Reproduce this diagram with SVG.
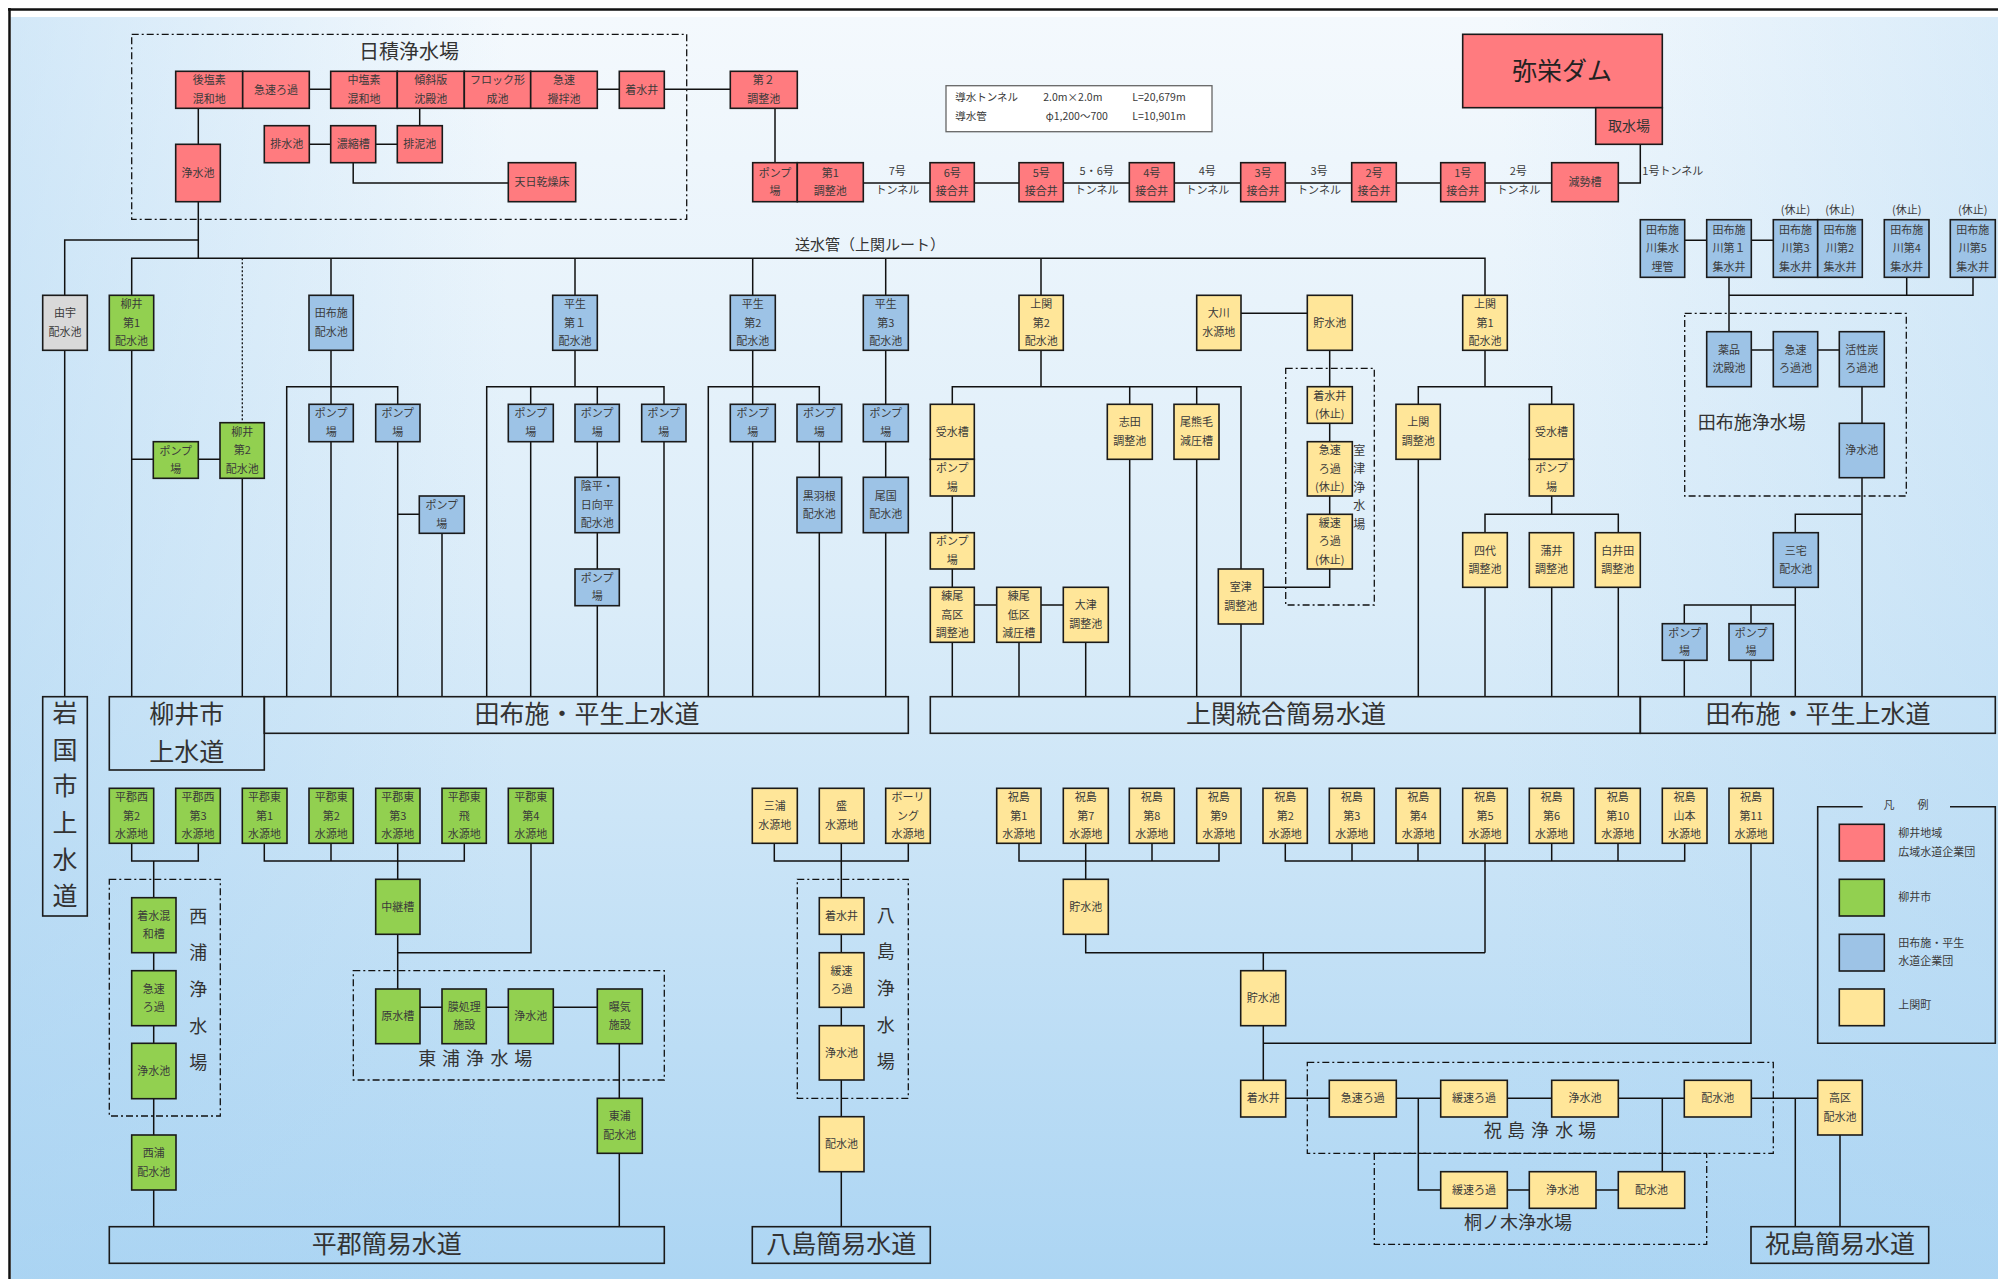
<svg xmlns="http://www.w3.org/2000/svg" width="1998" height="1279" viewBox="0 0 1998 1279">
<defs>
<linearGradient id="bgv" x1="0" y1="0" x2="0" y2="1">
<stop offset="0" stop-color="#f4f9fd"/>
<stop offset="0.45" stop-color="#dcedf9"/>
<stop offset="1" stop-color="#acd5f3"/>
</linearGradient>
<linearGradient id="bgh" x1="0" y1="0" x2="1" y2="0">
<stop offset="0" stop-color="#a9d3f2" stop-opacity="0.45"/>
<stop offset="0.25" stop-color="#a9d3f2" stop-opacity="0"/>
<stop offset="0.75" stop-color="#a9d3f2" stop-opacity="0"/>
<stop offset="1" stop-color="#a9d3f2" stop-opacity="0.35"/>
</linearGradient>
<style>
text{font-family:"Noto Sans CJK JP","Noto Sans CJK SC",sans-serif;fill:#3a3a3a;text-anchor:middle;dominant-baseline:central;transform:translateY(-1.2px)}
.t{font-size:11px}
.s{font-size:10.5px}
.big{font-size:25px;fill:#333;transform:translateY(-2.2px)}
.lab{font-size:18px;fill:#333;transform:translateY(-1.5px)}
.r{fill:#ff7b7f;stroke:#1a1a1a;stroke-width:1.6}
.g{fill:#92d050;stroke:#1a1a1a;stroke-width:1.6}
.b{fill:#9dc3e6;stroke:#1a1a1a;stroke-width:1.6}
.y{fill:#ffe699;stroke:#1a1a1a;stroke-width:1.6}
.gr{fill:#d9d9d9;stroke:#1a1a1a;stroke-width:1.6}
.bar{fill:none;stroke:#1a1a1a;stroke-width:1.6}
.c{fill:none;stroke:#111;stroke-width:1.5}
.d{fill:none;stroke:#111;stroke-width:1.3;stroke-dasharray:7 3 2 3}
.lt{text-anchor:start}
</style>
</defs>
<rect x="0" y="0" width="1998" height="1279" fill="#fff"/>
<rect x="11" y="17" width="1987" height="1262" fill="url(#bgv)"/>
<rect x="11" y="17" width="1987" height="1262" fill="url(#bgh)"/>
<path d="M8 9.5H1998M9.5 8V1279" stroke="#111" stroke-width="2.5" fill="none"/>

<g id="connectors">
<path class="c" d="M309.3 89.3H330.7M597.3 89.3H619.3M664.3 89.3H730.3M419.7 108.3V125.7M309.3 144.2H330.7M375.7 144.2H397.3M353.2 162.7V183H508.3M198.3 108.3V144.3M198.3 201.7V258.3M198.3 240H64.7V295.3M131.7 295.3V258.3H1485V295.3M331 258.3V295.3M575 258.3V295.3M752.7 258.3V295.3M885.7 258.3V295.3M1041 258.3V295.3M775 108.3V162.7M863.3 183H930M974.3 183H1019M1063.3 183H1129.3M1174.3 183H1240.7M1285.3 183H1351.7M1396.3 183H1440.7M1485 183H1551.7M1618.3 183H1640.3V144.3"/>
<path class="c" d="M64.7 350V696.7M131.7 350V696.7M131.7 459.3H153.3M198.3 459.3H220M242.3 478.3V696.7M331 350V386.7M286.7 696.7V386.7H397.7V404.3M331 386.7V404.3M331 441.7V696.7M397.7 441.7V696.7M397.7 514.3H419.3M442 533.3V696.7M575 350V386.7M486.7 696.7V386.7H664V404.3M530.7 386.7V404.3M597.3 386.7V404.3M530.7 441.7V696.7M597.3 441.7V477.3M597.3 532.7V569M597.3 605.7V696.7M664 441.7V696.7M752.7 350V386.7M708.3 696.7V386.7H819.3V404.3M752.7 386.7V404.3M752.7 441.7V696.7M819.3 441.7V477.3M819.3 532.7V696.7M885.7 350V404.3M885.7 441.7V477.3M885.7 532.7V696.7"/>
<path class="c" d="M1041 350V386.7M952.3 404.3V386.7H1241V569M1129.7 386.7V404.3M1196.7 386.7V404.3M952.3 496V532.7M952.3 569V587.3M952.3 642.3V696.7M974.3 605H996.7M1041 605H1063.3M1019 642.3V696.7M1085.7 642.3V696.7M1129.7 459.3V696.7M1196.7 459.3V696.7M1241 624V696.7M1263.3 587.3H1329.7V569M1241 313.3H1307.3M1329.7 350V386.7M1329.7 423.3V441.7M1329.7 496V514.3M1485 350V386.7M1418.3 404.3V386.7H1551.7V404.3M1418.3 459.3V696.7M1551.7 496V514.3M1485 532.7V514.3H1618.3V532.7M1485 587.3V696.7M1551.7 587.3V696.7M1618.3 587.3V696.7"/>
<path class="c" d="M1684.7 240.3H1706.7M1751.3 240.3H1773.3M1729 277.3V331.7M1729 295.3H1973V277.3M1906.7 277.3V295.3M1751.3 350H1773.3M1817.7 350H1839.3M1862 386.7V423.3M1862 477.7V696.7M1862 514.3H1795.3V532.7M1795.3 587.3V696.7M1684.3 623.7V605H1795.3M1751 605V623.7M1684.3 660.3V696.7M1751 660.3V696.7"/>
<path class="c" d="M131.7 843.3V861H198.3V843.3M153.7 861V897.7M153.7 952.7V970.7M153.7 1025.7V1043.3M153.7 1098.7V1135M153.7 1190V1226.7M264.3 843.3V861H464.3V843.3M331 843.3V861M397.7 843.3V879.3M397.7 934.3V989M397.7 952.7H531V843.3M420 1007.3H442M486.3 1007.3H508.3M553.3 1007.3H597.3M619.3 1043.7V1098.3M619.3 1153.3V1226.7M774.3 843.3V861H908.3V843.3M841.3 843.3V897.7M841.3 934.3V952.7M841.3 1007.3V1025.7M841.3 1080V1116.7M841.3 1171.7V1226.7"/>
<path class="c" d="M1019 843.3V861H1219V843.3M1152 843.3V861M1085.7 843.3V879.3M1085.7 934.3V952.7H1485M1285.3 843.3V861H1684.7V843.3M1352 843.3V861M1418 843.3V861M1551.7 843.3V861M1618 843.3V861M1485 843.3V952.7M1263.3 952.7V970.7M1263.3 1025.7V1080.3M1263.3 1043.3H1751V843.3M1285.7 1098.3H1329.3M1396.3 1098.3H1440.7M1507.3 1098.3H1551.7M1618.3 1098.3H1684.3M1751.3 1098.3H1817.7M1418.3 1098.3V1190H1440.7M1507.3 1190H1529.3M1596 1190H1618.3M1662.3 1098.3V1171.7M1795.3 1098.3V1226.7M1840 1135V1226.7"/>
<path d="M242.3 258.3V422.7" fill="none" stroke="#111" stroke-width="1.3" stroke-dasharray="2 2"/>
</g>

<g id="plants">
<rect class="d" x="131.7" y="34.3" width="555" height="185"/>
<text class="lab" x="409" y="52" style="font-size:20px">日積浄水場</text>
<rect class="d" x="1285.7" y="368.3" width="88.6" height="236.7"/>
<text style="font-size:12px"><tspan x="1359.3" y="450">室</tspan><tspan x="1359.3" y="468.5">津</tspan><tspan x="1359.3" y="487">浄</tspan><tspan x="1359.3" y="505.5">水</tspan><tspan x="1359.3" y="524">場</tspan></text>
<rect class="d" x="1684.7" y="313.3" width="221.6" height="182.7"/>
<text class="lab" x="1751.7" y="422.7">田布施浄水場</text>
<rect class="d" x="109.3" y="879.3" width="111" height="236.7"/>
<text class="lab"><tspan x="198.3" y="916">西</tspan><tspan x="198.3" y="952.7">浦</tspan><tspan x="198.3" y="989.3">浄</tspan><tspan x="198.3" y="1026">水</tspan><tspan x="198.3" y="1062.7">場</tspan></text>
<rect class="d" x="353.3" y="970.7" width="311" height="109.3"/>
<text class="lab" x="427.3 451 475 499.5 523.3" y="1058.3">東浦浄水場</text>
<rect class="d" x="797.3" y="879.3" width="111" height="219"/>
<text class="lab"><tspan x="885.7" y="915">八</tspan><tspan x="885.7" y="951.7">島</tspan><tspan x="885.7" y="988.3">浄</tspan><tspan x="885.7" y="1025">水</tspan><tspan x="885.7" y="1061.7">場</tspan></text>
<rect class="d" x="1307.3" y="1062.3" width="466" height="91"/>
<text class="lab" x="1492.7 1516 1540 1564.3 1587" y="1130.7">祝島浄水場</text>
<rect class="d" x="1374.3" y="1153.3" width="332.4" height="91"/>
<text class="lab" x="1518" y="1222.7">桐ノ木浄水場</text>
</g>

<g id="info">
<rect x="946" y="85.7" width="266" height="46" fill="#fff" stroke="#666" stroke-width="1.3"/>
<text class="s lt" x="955.3" y="97.7">導水トンネル</text>
<text class="s lt" x="955.3" y="116.7">導水管</text>
<text class="s lt" x="1043.3" y="97.7">2.0m×2.0m</text>
<text class="s lt" x="1045.7" y="116.7">φ1,200～700</text>
<text class="s lt" x="1132.3" y="97.7">L=20,679m</text>
<text class="s lt" x="1132.3" y="116.7">L=10,901m</text>
<text style="font-size:15px;fill:#333" x="870" y="245">送水管（上関ルート）</text>
</g>

<g id="tunnels">
<text class="t"><tspan x="897.3" y="171.7">7号</tspan><tspan x="897.3" y="190.7">トンネル</tspan></text>
<text class="t"><tspan x="1096.7" y="171.7">5・6号</tspan><tspan x="1096.7" y="190.7">トンネル</tspan></text>
<text class="t"><tspan x="1207.3" y="171.7">4号</tspan><tspan x="1207.3" y="190.7">トンネル</tspan></text>
<text class="t"><tspan x="1319" y="171.7">3号</tspan><tspan x="1319" y="190.7">トンネル</tspan></text>
<text class="t"><tspan x="1518.3" y="171.7">2号</tspan><tspan x="1518.3" y="190.7">トンネル</tspan></text>
<text class="t lt" x="1642.3" y="171.7">1号トンネル</text>
</g>

<g id="n-hizumi">
<g id="n1"><rect class="r" x="175.7" y="71.3" width="67" height="37"/><text class="t"><tspan x="209.2" y="80.6">後塩素</tspan><tspan x="209.2" y="99.1">混和地</tspan></text></g>
<g id="n2"><rect class="r" x="242.7" y="71.3" width="66.6" height="37"/><text class="t" x="276" y="89.8">急速ろ過</text></g>
<g id="n3"><rect class="r" x="330.7" y="71.3" width="66.6" height="37"/><text class="t"><tspan x="364" y="80.6">中塩素</tspan><tspan x="364" y="99.1">混和地</tspan></text></g>
<g id="n4"><rect class="r" x="397.3" y="71.3" width="67" height="37"/><text class="t"><tspan x="430.8" y="80.6">傾斜版</tspan><tspan x="430.8" y="99.1">沈殿池</tspan></text></g>
<g id="n5"><rect class="r" x="464.3" y="71.3" width="66.4" height="37"/><text class="t"><tspan x="497.5" y="80.6">フロック形</tspan><tspan x="497.5" y="99.1">成池</tspan></text></g>
<g id="n6"><rect class="r" x="530.7" y="71.3" width="66.6" height="37"/><text class="t"><tspan x="564" y="80.6">急速</tspan><tspan x="564" y="99.1">攪拌池</tspan></text></g>
<g id="n7"><rect class="r" x="619.3" y="71.3" width="45" height="37"/><text class="t" x="641.8" y="89.8">着水井</text></g>
<g id="n8"><rect class="r" x="730.3" y="71.3" width="67" height="37"/><text class="t"><tspan x="763.8" y="80.6">第２</tspan><tspan x="763.8" y="99.1">調整池</tspan></text></g>
<g id="n9"><rect class="r" x="264.3" y="125.7" width="45" height="37"/><text class="t" x="286.8" y="144.2">排水池</text></g>
<g id="n10"><rect class="r" x="330.7" y="125.7" width="45" height="37"/><text class="t" x="353.2" y="144.2">濃縮槽</text></g>
<g id="n11"><rect class="r" x="397.3" y="125.7" width="45" height="37"/><text class="t" x="419.8" y="144.2">排泥池</text></g>
<g id="n12"><rect class="r" x="508.3" y="162.7" width="67.4" height="39"/><text class="t" x="542" y="182.2">天日乾燥床</text></g>
<g id="n13"><rect class="r" x="175.7" y="144.3" width="44.6" height="57.4"/><text class="t" x="198" y="173">浄水池</text></g>
</g>

<g id="n-chain">
<g id="n14"><rect class="r" x="752.7" y="162.7" width="44.6" height="39"/><text class="t"><tspan x="775" y="172.9">ポンプ</tspan><tspan x="775" y="191.4">場</tspan></text></g>
<g id="n15"><rect class="r" x="797.3" y="162.7" width="66" height="39"/><text class="t"><tspan x="830.3" y="172.9">第1</tspan><tspan x="830.3" y="191.4">調整池</tspan></text></g>
<g id="n16"><rect class="r" x="930" y="162.7" width="44.3" height="39"/><text class="t"><tspan x="952.2" y="172.9">6号</tspan><tspan x="952.2" y="191.4">接合井</tspan></text></g>
<g id="n17"><rect class="r" x="1019" y="162.7" width="44.3" height="39"/><text class="t"><tspan x="1041.2" y="172.9">5号</tspan><tspan x="1041.2" y="191.4">接合井</tspan></text></g>
<g id="n18"><rect class="r" x="1129.3" y="162.7" width="45" height="39"/><text class="t"><tspan x="1151.8" y="172.9">4号</tspan><tspan x="1151.8" y="191.4">接合井</tspan></text></g>
<g id="n19"><rect class="r" x="1240.7" y="162.7" width="44.6" height="39"/><text class="t"><tspan x="1263" y="172.9">3号</tspan><tspan x="1263" y="191.4">接合井</tspan></text></g>
<g id="n20"><rect class="r" x="1351.7" y="162.7" width="44.6" height="39"/><text class="t"><tspan x="1374" y="172.9">2号</tspan><tspan x="1374" y="191.4">接合井</tspan></text></g>
<g id="n21"><rect class="r" x="1440.7" y="162.7" width="44.3" height="39"/><text class="t"><tspan x="1462.8" y="172.9">1号</tspan><tspan x="1462.8" y="191.4">接合井</tspan></text></g>
<g id="n22"><rect class="r" x="1551.7" y="162.7" width="66.6" height="39"/><text class="t" x="1585" y="182.2">減勢槽</text></g>
<g id="n23"><rect class="r" x="1462.7" y="34.3" width="199.6" height="73.4"/><text style="font-size:25px;fill:#222" x="1562" y="70">弥栄ダム</text></g>
<g id="n24"><rect class="r" x="1595.7" y="107.7" width="66.6" height="36.6"/><text style="font-size:14px;fill:#333" x="1629" y="126">取水場</text></g>
</g>

<g id="n-row1">
<g id="n25"><rect class="gr" x="42.7" y="295.3" width="44.6" height="55"/><text class="t"><tspan x="65" y="313.6">由宇</tspan><tspan x="65" y="332.1">配水池</tspan></text></g>
<g id="n26"><rect class="g" x="109.3" y="295.3" width="44.4" height="55"/><text class="t"><tspan x="131.5" y="304.3">柳井</tspan><tspan x="131.5" y="322.8">第1</tspan><tspan x="131.5" y="341.3">配水池</tspan></text></g>
<g id="n27"><rect class="b" x="309" y="295.3" width="44.3" height="55"/><text class="t"><tspan x="331.2" y="313.6">田布施</tspan><tspan x="331.2" y="332.1">配水池</tspan></text></g>
<g id="n28"><rect class="b" x="552.7" y="295.3" width="44.6" height="55"/><text class="t"><tspan x="575" y="304.3">平生</tspan><tspan x="575" y="322.8">第１</tspan><tspan x="575" y="341.3">配水池</tspan></text></g>
<g id="n29"><rect class="b" x="730.3" y="295.3" width="45" height="55"/><text class="t"><tspan x="752.8" y="304.3">平生</tspan><tspan x="752.8" y="322.8">第2</tspan><tspan x="752.8" y="341.3">配水池</tspan></text></g>
<g id="n30"><rect class="b" x="863.3" y="295.3" width="45" height="55"/><text class="t"><tspan x="885.8" y="304.3">平生</tspan><tspan x="885.8" y="322.8">第3</tspan><tspan x="885.8" y="341.3">配水池</tspan></text></g>
<g id="n31"><rect class="y" x="1019" y="295.3" width="44.3" height="55"/><text class="t"><tspan x="1041.2" y="304.3">上関</tspan><tspan x="1041.2" y="322.8">第2</tspan><tspan x="1041.2" y="341.3">配水池</tspan></text></g>
<g id="n32"><rect class="y" x="1196.7" y="295.3" width="44.3" height="55"/><text class="t"><tspan x="1218.8" y="313.6">大川</tspan><tspan x="1218.8" y="332.1">水源地</tspan></text></g>
<g id="n33"><rect class="y" x="1307.3" y="295.3" width="45" height="55"/><text class="t" x="1329.8" y="322.8">貯水池</text></g>
<g id="n34"><rect class="y" x="1462.7" y="295.3" width="44.6" height="55"/><text class="t"><tspan x="1485" y="304.3">上関</tspan><tspan x="1485" y="322.8">第1</tspan><tspan x="1485" y="341.3">配水池</tspan></text></g>
</g>

<g id="n-tabuse-src">
<g id="n35"><rect class="b" x="1640.3" y="219.7" width="44.4" height="57.6"/><text class="t"><tspan x="1662.5" y="230">田布施</tspan><tspan x="1662.5" y="248.5">川集水</tspan><tspan x="1662.5" y="267">埋管</tspan></text></g>
<g id="n36"><rect class="b" x="1706.7" y="219.7" width="44.6" height="57.6"/><text class="t"><tspan x="1729" y="230">田布施</tspan><tspan x="1729" y="248.5">川第１</tspan><tspan x="1729" y="267">集水井</tspan></text></g>
<g id="n37"><rect class="b" x="1773.3" y="219.7" width="44.4" height="57.6"/><text class="t"><tspan x="1795.5" y="230">田布施</tspan><tspan x="1795.5" y="248.5">川第3</tspan><tspan x="1795.5" y="267">集水井</tspan></text><text class="t" x="1795.5" y="210.7">(休止)</text></g>
<g id="n38"><rect class="b" x="1817.7" y="219.7" width="44.6" height="57.6"/><text class="t"><tspan x="1840" y="230">田布施</tspan><tspan x="1840" y="248.5">川第2</tspan><tspan x="1840" y="267">集水井</tspan></text><text class="t" x="1840" y="210.7">(休止)</text></g>
<g id="n39"><rect class="b" x="1884.3" y="219.7" width="44.7" height="57.6"/><text class="t"><tspan x="1906.7" y="230">田布施</tspan><tspan x="1906.7" y="248.5">川第4</tspan><tspan x="1906.7" y="267">集水井</tspan></text><text class="t" x="1906.7" y="210.7">(休止)</text></g>
<g id="n40"><rect class="b" x="1950.3" y="219.7" width="45" height="57.6"/><text class="t"><tspan x="1972.8" y="230">田布施</tspan><tspan x="1972.8" y="248.5">川第5</tspan><tspan x="1972.8" y="267">集水井</tspan></text><text class="t" x="1972.8" y="210.7">(休止)</text></g>
<g id="n41"><rect class="b" x="1706.7" y="331.7" width="44.6" height="55"/><text class="t"><tspan x="1729" y="350">薬品</tspan><tspan x="1729" y="368.5">沈殿池</tspan></text></g>
<g id="n42"><rect class="b" x="1773.3" y="331.7" width="44.4" height="55"/><text class="t"><tspan x="1795.5" y="350">急速</tspan><tspan x="1795.5" y="368.5">ろ過池</tspan></text></g>
<g id="n43"><rect class="b" x="1839.3" y="331.7" width="45" height="55"/><text class="t"><tspan x="1861.8" y="350">活性炭</tspan><tspan x="1861.8" y="368.5">ろ過池</tspan></text></g>
<g id="n44"><rect class="b" x="1839.3" y="423.3" width="45" height="54.4"/><text class="t" x="1861.8" y="450.5">浄水池</text></g>
<g id="n45"><rect class="b" x="1773.3" y="532.7" width="45" height="54.6"/><text class="t"><tspan x="1795.8" y="550.8">三宅</tspan><tspan x="1795.8" y="569.3">配水池</tspan></text></g>
<g id="n46"><rect class="b" x="1662.3" y="623.7" width="44.7" height="36.6"/><text class="t"><tspan x="1684.6" y="632.8">ポンプ</tspan><tspan x="1684.6" y="651.3">場</tspan></text></g>
<g id="n47"><rect class="b" x="1729" y="623.7" width="44.3" height="36.6"/><text class="t"><tspan x="1751.1" y="632.8">ポンプ</tspan><tspan x="1751.1" y="651.3">場</tspan></text></g>
</g>

<g id="n-yanai-tabuse">
<g id="n48"><rect class="g" x="153.3" y="441.7" width="45" height="36.6"/><text class="t"><tspan x="175.8" y="450.8">ポンプ</tspan><tspan x="175.8" y="469.3">場</tspan></text></g>
<g id="n49"><rect class="g" x="220" y="422.7" width="44.3" height="55.6"/><text class="t"><tspan x="242.2" y="432">柳井</tspan><tspan x="242.2" y="450.5">第2</tspan><tspan x="242.2" y="469">配水池</tspan></text></g>
<g id="n50"><rect class="b" x="309" y="404.3" width="44.3" height="37.4"/><text class="t"><tspan x="331.2" y="413.6">ポンプ</tspan><tspan x="331.2" y="432.1">場</tspan></text></g>
<g id="n51"><rect class="b" x="375.7" y="404.3" width="44.3" height="37.4"/><text class="t"><tspan x="397.8" y="413.6">ポンプ</tspan><tspan x="397.8" y="432.1">場</tspan></text></g>
<g id="n52"><rect class="b" x="419.3" y="496" width="45" height="37.3"/><text class="t"><tspan x="441.8" y="505.4">ポンプ</tspan><tspan x="441.8" y="523.9">場</tspan></text></g>
<g id="n53"><rect class="b" x="508.3" y="404.3" width="45" height="37.4"/><text class="t"><tspan x="530.8" y="413.6">ポンプ</tspan><tspan x="530.8" y="432.1">場</tspan></text></g>
<g id="n54"><rect class="b" x="575" y="404.3" width="44.3" height="37.4"/><text class="t"><tspan x="597.2" y="413.6">ポンプ</tspan><tspan x="597.2" y="432.1">場</tspan></text></g>
<g id="n55"><rect class="b" x="641.7" y="404.3" width="44.3" height="37.4"/><text class="t"><tspan x="663.8" y="413.6">ポンプ</tspan><tspan x="663.8" y="432.1">場</tspan></text></g>
<g id="n56"><rect class="b" x="575" y="477.3" width="44.3" height="55.4"/><text class="t"><tspan x="597.2" y="486.5">陰平・</tspan><tspan x="597.2" y="505">日向平</tspan><tspan x="597.2" y="523.5">配水池</tspan></text></g>
<g id="n57"><rect class="b" x="575" y="569" width="44.3" height="36.7"/><text class="t"><tspan x="597.2" y="578">ポンプ</tspan><tspan x="597.2" y="596.6">場</tspan></text></g>
<g id="n58"><rect class="b" x="730.3" y="404.3" width="45" height="37.4"/><text class="t"><tspan x="752.8" y="413.6">ポンプ</tspan><tspan x="752.8" y="432.1">場</tspan></text></g>
<g id="n59"><rect class="b" x="797" y="404.3" width="44.7" height="37.4"/><text class="t"><tspan x="819.3" y="413.6">ポンプ</tspan><tspan x="819.3" y="432.1">場</tspan></text></g>
<g id="n60"><rect class="b" x="863.3" y="404.3" width="45" height="37.4"/><text class="t"><tspan x="885.8" y="413.6">ポンプ</tspan><tspan x="885.8" y="432.1">場</tspan></text></g>
<g id="n61"><rect class="b" x="797" y="477.3" width="44.7" height="55.4"/><text class="t"><tspan x="819.3" y="495.8">黒羽根</tspan><tspan x="819.3" y="514.3">配水池</tspan></text></g>
<g id="n62"><rect class="b" x="863.3" y="477.3" width="45" height="55.4"/><text class="t"><tspan x="885.8" y="495.8">尾国</tspan><tspan x="885.8" y="514.3">配水池</tspan></text></g>
</g>

<g id="n-kaminoseki">
<g id="n63"><rect class="y" x="930.3" y="404.3" width="44" height="55"/><text class="t" x="952.3" y="431.8">受水槽</text></g>
<g id="n64"><rect class="y" x="930.3" y="459.3" width="44" height="36.7"/><text class="t"><tspan x="952.3" y="468.4">ポンプ</tspan><tspan x="952.3" y="486.9">場</tspan></text></g>
<g id="n65"><rect class="y" x="930.3" y="532.7" width="44" height="36.3"/><text class="t"><tspan x="952.3" y="541.6">ポンプ</tspan><tspan x="952.3" y="560.1">場</tspan></text></g>
<g id="n66"><rect class="y" x="930.3" y="587.3" width="44" height="55"/><text class="t"><tspan x="952.3" y="596.3">練尾</tspan><tspan x="952.3" y="614.8">高区</tspan><tspan x="952.3" y="633.3">調整池</tspan></text></g>
<g id="n67"><rect class="y" x="996.7" y="587.3" width="44.3" height="55"/><text class="t"><tspan x="1018.8" y="596.3">練尾</tspan><tspan x="1018.8" y="614.8">低区</tspan><tspan x="1018.8" y="633.3">減圧槽</tspan></text></g>
<g id="n68"><rect class="y" x="1063.3" y="587.3" width="45" height="55"/><text class="t"><tspan x="1085.8" y="605.6">大津</tspan><tspan x="1085.8" y="624.1">調整池</tspan></text></g>
<g id="n69"><rect class="y" x="1107.3" y="404.3" width="45" height="55"/><text class="t"><tspan x="1129.8" y="422.6">志田</tspan><tspan x="1129.8" y="441.1">調整池</tspan></text></g>
<g id="n70"><rect class="y" x="1174" y="404.3" width="45" height="55"/><text class="t"><tspan x="1196.5" y="422.6">尾熊毛</tspan><tspan x="1196.5" y="441.1">減圧槽</tspan></text></g>
<g id="n71"><rect class="y" x="1218.3" y="569" width="45" height="55"/><text class="t"><tspan x="1240.8" y="587.3">室津</tspan><tspan x="1240.8" y="605.8">調整池</tspan></text></g>
<g id="n72"><rect class="y" x="1307.3" y="386.7" width="45" height="36.6"/><text class="t"><tspan x="1329.8" y="395.8">着水井</tspan><tspan x="1329.8" y="414.3">(休止)</tspan></text></g>
<g id="n73"><rect class="y" x="1307.3" y="441.7" width="45" height="54.3"/><text class="t"><tspan x="1329.8" y="450.3">急速</tspan><tspan x="1329.8" y="468.8">ろ過</tspan><tspan x="1329.8" y="487.3">(休止)</tspan></text></g>
<g id="n74"><rect class="y" x="1307.3" y="514.3" width="45" height="54.7"/><text class="t"><tspan x="1329.8" y="523.2">緩速</tspan><tspan x="1329.8" y="541.7">ろ過</tspan><tspan x="1329.8" y="560.2">(休止)</tspan></text></g>
<g id="n75"><rect class="y" x="1396" y="404.3" width="44.3" height="55"/><text class="t"><tspan x="1418.2" y="422.6">上関</tspan><tspan x="1418.2" y="441.1">調整池</tspan></text></g>
<g id="n76"><rect class="y" x="1529.3" y="404.3" width="44.4" height="55"/><text class="t" x="1551.5" y="431.8">受水槽</text></g>
<g id="n77"><rect class="y" x="1529.3" y="459.3" width="44.4" height="36.7"/><text class="t"><tspan x="1551.5" y="468.4">ポンプ</tspan><tspan x="1551.5" y="486.9">場</tspan></text></g>
<g id="n78"><rect class="y" x="1462.7" y="532.7" width="44.6" height="54.6"/><text class="t"><tspan x="1485" y="550.8">四代</tspan><tspan x="1485" y="569.3">調整池</tspan></text></g>
<g id="n79"><rect class="y" x="1529.3" y="532.7" width="44.4" height="54.6"/><text class="t"><tspan x="1551.5" y="550.8">蒲井</tspan><tspan x="1551.5" y="569.3">調整池</tspan></text></g>
<g id="n80"><rect class="y" x="1595.3" y="532.7" width="45" height="54.6"/><text class="t"><tspan x="1617.8" y="550.8">白井田</tspan><tspan x="1617.8" y="569.3">調整池</tspan></text></g>
</g>

<g id="systems">
<g id="s1"><rect class="bar" x="42.7" y="696.7" width="44.6" height="219.3"/><text class="big"><tspan x="65" y="713.3">岩</tspan><tspan x="65" y="750">国</tspan><tspan x="65" y="786.6">市</tspan><tspan x="65" y="823.2">上</tspan><tspan x="65" y="859.8">水</tspan><tspan x="65" y="896.4">道</tspan></text></g>
<g id="s2"><rect class="bar" x="109.3" y="696.7" width="155" height="73.3"/><text class="big"><tspan x="186.8" y="713.8">柳井市</tspan><tspan x="186.8" y="752">上水道</tspan></text></g>
<g id="s3"><rect class="bar" x="264.3" y="696.7" width="644" height="36.6"/><text class="big" x="587" y="714.5">田布施・平生上水道</text></g>
<g id="s4"><rect class="bar" x="930.3" y="696.7" width="710" height="36.6"/><text class="big" x="1286" y="714.5">上関統合簡易水道</text></g>
<g id="s5"><rect class="bar" x="1640.3" y="696.7" width="355" height="36.6"/><text class="big" x="1818" y="714.5">田布施・平生上水道</text></g>
<g id="s6"><rect class="bar" x="109.3" y="1226.7" width="555" height="36.6"/><text class="big" x="386.8" y="1244.5">平郡簡易水道</text></g>
<g id="s7"><rect class="bar" x="752.3" y="1226.7" width="178" height="36.6"/><text class="big" x="841.3" y="1244.5">八島簡易水道</text></g>
<g id="s8"><rect class="bar" x="1751" y="1226.7" width="177.7" height="36.6"/><text class="big" x="1840" y="1244.5">祝島簡易水道</text></g>
</g>

<g id="n-heigun">
<g id="n81"><rect class="g" x="109.3" y="788.3" width="44.4" height="55"/><text class="t"><tspan x="131.5" y="797.3">平郡西</tspan><tspan x="131.5" y="815.8">第2</tspan><tspan x="131.5" y="834.3">水源地</tspan></text></g>
<g id="n82"><rect class="g" x="175.7" y="788.3" width="44.6" height="55"/><text class="t"><tspan x="198" y="797.3">平郡西</tspan><tspan x="198" y="815.8">第3</tspan><tspan x="198" y="834.3">水源地</tspan></text></g>
<g id="n83"><rect class="g" x="242.3" y="788.3" width="44.7" height="55"/><text class="t"><tspan x="264.6" y="797.3">平郡東</tspan><tspan x="264.6" y="815.8">第1</tspan><tspan x="264.6" y="834.3">水源地</tspan></text></g>
<g id="n84"><rect class="g" x="309" y="788.3" width="44.3" height="55"/><text class="t"><tspan x="331.2" y="797.3">平郡東</tspan><tspan x="331.2" y="815.8">第2</tspan><tspan x="331.2" y="834.3">水源地</tspan></text></g>
<g id="n85"><rect class="g" x="375.7" y="788.3" width="44.3" height="55"/><text class="t"><tspan x="397.8" y="797.3">平郡東</tspan><tspan x="397.8" y="815.8">第3</tspan><tspan x="397.8" y="834.3">水源地</tspan></text></g>
<g id="n86"><rect class="g" x="442" y="788.3" width="44.3" height="55"/><text class="t"><tspan x="464.2" y="797.3">平郡東</tspan><tspan x="464.2" y="815.8">飛</tspan><tspan x="464.2" y="834.3">水源地</tspan></text></g>
<g id="n87"><rect class="g" x="508.3" y="788.3" width="45" height="55"/><text class="t"><tspan x="530.8" y="797.3">平郡東</tspan><tspan x="530.8" y="815.8">第4</tspan><tspan x="530.8" y="834.3">水源地</tspan></text></g>
<g id="n88"><rect class="g" x="131.7" y="897.7" width="44.3" height="55"/><text class="t"><tspan x="153.8" y="916">着水混</tspan><tspan x="153.8" y="934.5">和槽</tspan></text></g>
<g id="n89"><rect class="g" x="131.7" y="970.7" width="44.3" height="55"/><text class="t"><tspan x="153.8" y="989">急速</tspan><tspan x="153.8" y="1007.5">ろ過</tspan></text></g>
<g id="n90"><rect class="g" x="131.7" y="1043.3" width="44.3" height="55.4"/><text class="t" x="153.8" y="1071">浄水池</text></g>
<g id="n91"><rect class="g" x="131.7" y="1135" width="44.3" height="55"/><text class="t"><tspan x="153.8" y="1153.3">西浦</tspan><tspan x="153.8" y="1171.8">配水池</tspan></text></g>
<g id="n92"><rect class="g" x="375.7" y="879.3" width="44.3" height="55"/><text class="t" x="397.8" y="906.8">中継槽</text></g>
<g id="n93"><rect class="g" x="375.7" y="989" width="44.3" height="54.7"/><text class="t" x="397.8" y="1016.3">原水槽</text></g>
<g id="n94"><rect class="g" x="442" y="989" width="44.3" height="54.7"/><text class="t"><tspan x="464.2" y="1007.1">膜処理</tspan><tspan x="464.2" y="1025.6">施設</tspan></text></g>
<g id="n95"><rect class="g" x="508.3" y="989" width="45" height="54.7"/><text class="t" x="530.8" y="1016.3">浄水池</text></g>
<g id="n96"><rect class="g" x="597.3" y="989" width="45" height="54.7"/><text class="t"><tspan x="619.8" y="1007.1">曝気</tspan><tspan x="619.8" y="1025.6">施設</tspan></text></g>
<g id="n97"><rect class="g" x="597.3" y="1098.3" width="45" height="55"/><text class="t"><tspan x="619.8" y="1116.6">東浦</tspan><tspan x="619.8" y="1135.1">配水池</tspan></text></g>
</g>

<g id="n-yashima">
<g id="n98"><rect class="y" x="752.3" y="788.3" width="45" height="55"/><text class="t"><tspan x="774.8" y="806.6">三浦</tspan><tspan x="774.8" y="825.1">水源地</tspan></text></g>
<g id="n99"><rect class="y" x="819.3" y="788.3" width="44.7" height="55"/><text class="t"><tspan x="841.6" y="806.6">盛</tspan><tspan x="841.6" y="825.1">水源地</tspan></text></g>
<g id="n100"><rect class="y" x="885.7" y="788.3" width="44.6" height="55"/><text class="t"><tspan x="908" y="797.3">ボーリ</tspan><tspan x="908" y="815.8">ング</tspan><tspan x="908" y="834.3">水源地</tspan></text></g>
<g id="n101"><rect class="y" x="819.3" y="897.7" width="44.7" height="36.6"/><text class="t" x="841.6" y="916">着水井</text></g>
<g id="n102"><rect class="y" x="819.3" y="952.7" width="44.7" height="54.6"/><text class="t"><tspan x="841.6" y="970.8">緩速</tspan><tspan x="841.6" y="989.3">ろ過</tspan></text></g>
<g id="n103"><rect class="y" x="819.3" y="1025.7" width="44.7" height="54.3"/><text class="t" x="841.6" y="1052.8">浄水池</text></g>
<g id="n104"><rect class="y" x="819.3" y="1116.7" width="44.7" height="55"/><text class="t" x="841.6" y="1144.2">配水池</text></g>
</g>

<g id="n-iwaishima">
<g id="n105"><rect class="y" x="996.7" y="788.3" width="44.3" height="55"/><text class="t"><tspan x="1018.8" y="797.3">祝島</tspan><tspan x="1018.8" y="815.8">第1</tspan><tspan x="1018.8" y="834.3">水源地</tspan></text></g>
<g id="n106"><rect class="y" x="1063.3" y="788.3" width="45" height="55"/><text class="t"><tspan x="1085.8" y="797.3">祝島</tspan><tspan x="1085.8" y="815.8">第7</tspan><tspan x="1085.8" y="834.3">水源地</tspan></text></g>
<g id="n107"><rect class="y" x="1129.3" y="788.3" width="45" height="55"/><text class="t"><tspan x="1151.8" y="797.3">祝島</tspan><tspan x="1151.8" y="815.8">第8</tspan><tspan x="1151.8" y="834.3">水源地</tspan></text></g>
<g id="n108"><rect class="y" x="1196.7" y="788.3" width="44.3" height="55"/><text class="t"><tspan x="1218.8" y="797.3">祝島</tspan><tspan x="1218.8" y="815.8">第9</tspan><tspan x="1218.8" y="834.3">水源地</tspan></text></g>
<g id="n109"><rect class="y" x="1263" y="788.3" width="44.3" height="55"/><text class="t"><tspan x="1285.2" y="797.3">祝島</tspan><tspan x="1285.2" y="815.8">第2</tspan><tspan x="1285.2" y="834.3">水源地</tspan></text></g>
<g id="n110"><rect class="y" x="1329.3" y="788.3" width="45" height="55"/><text class="t"><tspan x="1351.8" y="797.3">祝島</tspan><tspan x="1351.8" y="815.8">第3</tspan><tspan x="1351.8" y="834.3">水源地</tspan></text></g>
<g id="n111"><rect class="y" x="1396" y="788.3" width="44.3" height="55"/><text class="t"><tspan x="1418.2" y="797.3">祝島</tspan><tspan x="1418.2" y="815.8">第4</tspan><tspan x="1418.2" y="834.3">水源地</tspan></text></g>
<g id="n112"><rect class="y" x="1462.7" y="788.3" width="44.6" height="55"/><text class="t"><tspan x="1485" y="797.3">祝島</tspan><tspan x="1485" y="815.8">第5</tspan><tspan x="1485" y="834.3">水源地</tspan></text></g>
<g id="n113"><rect class="y" x="1529.3" y="788.3" width="44.4" height="55"/><text class="t"><tspan x="1551.5" y="797.3">祝島</tspan><tspan x="1551.5" y="815.8">第6</tspan><tspan x="1551.5" y="834.3">水源地</tspan></text></g>
<g id="n114"><rect class="y" x="1595.3" y="788.3" width="45" height="55"/><text class="t"><tspan x="1617.8" y="797.3">祝島</tspan><tspan x="1617.8" y="815.8">第10</tspan><tspan x="1617.8" y="834.3">水源地</tspan></text></g>
<g id="n115"><rect class="y" x="1662.3" y="788.3" width="44.7" height="55"/><text class="t"><tspan x="1684.6" y="797.3">祝島</tspan><tspan x="1684.6" y="815.8">山本</tspan><tspan x="1684.6" y="834.3">水源地</tspan></text></g>
<g id="n116"><rect class="y" x="1729" y="788.3" width="44.3" height="55"/><text class="t"><tspan x="1751.1" y="797.3">祝島</tspan><tspan x="1751.1" y="815.8">第11</tspan><tspan x="1751.1" y="834.3">水源地</tspan></text></g>
<g id="n117"><rect class="y" x="1063.3" y="879.3" width="45" height="55"/><text class="t" x="1085.8" y="906.8">貯水池</text></g>
<g id="n118"><rect class="y" x="1240.7" y="970.7" width="45" height="55"/><text class="t" x="1263.2" y="998.2">貯水池</text></g>
<g id="n119"><rect class="y" x="1240.7" y="1080.3" width="45" height="36.7"/><text class="t" x="1263.2" y="1098.7">着水井</text></g>
<g id="n120"><rect class="y" x="1329.3" y="1080.3" width="67" height="36.7"/><text class="t" x="1362.8" y="1098.7">急速ろ過</text></g>
<g id="n121"><rect class="y" x="1440.7" y="1080.3" width="66.6" height="36.7"/><text class="t" x="1474" y="1098.7">緩速ろ過</text></g>
<g id="n122"><rect class="y" x="1551.7" y="1080.3" width="66.6" height="36.7"/><text class="t" x="1585" y="1098.7">浄水池</text></g>
<g id="n123"><rect class="y" x="1684.3" y="1080.3" width="67" height="36.7"/><text class="t" x="1717.8" y="1098.7">配水池</text></g>
<g id="n124"><rect class="y" x="1817.7" y="1080.3" width="44.6" height="54.7"/><text class="t"><tspan x="1840" y="1098.4">高区</tspan><tspan x="1840" y="1116.9">配水池</tspan></text></g>
<g id="n125"><rect class="y" x="1440.7" y="1171.7" width="66.6" height="36.6"/><text class="t" x="1474" y="1190">緩速ろ過</text></g>
<g id="n126"><rect class="y" x="1529.3" y="1171.7" width="66.7" height="36.6"/><text class="t" x="1562.6" y="1190">浄水池</text></g>
<g id="n127"><rect class="y" x="1618.3" y="1171.7" width="66.4" height="36.6"/><text class="t" x="1651.5" y="1190">配水池</text></g>
</g>

<g id="legend">
<path d="M1862.7 806.7H1817.7V1043.3H1995.3V806.7H1950" fill="none" stroke="#1a1a1a" stroke-width="1.6"/>
<text class="t" x="1889" y="805">凡</text><text class="t" x="1923" y="805">例</text>
<rect class="r" x="1839.3" y="824.3" width="45" height="36.7"/>
<rect class="g" x="1839.3" y="879.3" width="45" height="36.7"/>
<rect class="b" x="1839.3" y="934.3" width="45" height="36.7"/>
<rect class="y" x="1839.3" y="989" width="45" height="36.7"/>
<text class="t lt" x="1898.3" y="833.3">柳井地域</text>
<text class="t lt" x="1898.3" y="852.3">広域水道企業団</text>
<text class="t lt" x="1898.3" y="897.3">柳井市</text>
<text class="t lt" x="1898.3" y="943.3">田布施・平生</text>
<text class="t lt" x="1898.3" y="961.7">水道企業団</text>
<text class="t lt" x="1898.3" y="1005.7">上関町</text>
</g>
</svg>
